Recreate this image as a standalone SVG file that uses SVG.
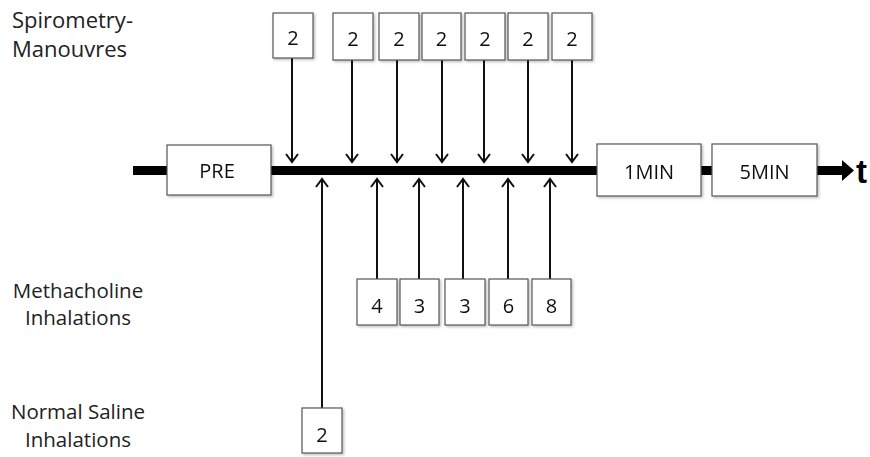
<svg xmlns="http://www.w3.org/2000/svg" width="870" height="457" viewBox="0 0 870 457">
<style>
.box{fill:#fff;stroke:#555;stroke-width:1.2}
.lbl{font-family:"Open Sans","Liberation Sans",sans-serif;font-size:20px;fill:#111;text-anchor:middle}
.side{font-family:"Open Sans","Liberation Sans",sans-serif;font-size:20.5px;fill:#222}
.big{font-size:22px}
.arr{stroke:#111;stroke-width:2;fill:none;marker-end:url(#ah)}
</style>
<defs>
<marker id="ah" markerWidth="14" markerHeight="14" refX="11" refY="7" orient="auto" markerUnits="userSpaceOnUse">
<path d="M3,1 L11,7 L3,13" fill="none" stroke="#111" stroke-width="2"/>
</marker>
<filter id="sh" x="-10%" y="-10%" width="130%" height="130%">
<feDropShadow dx="1.5" dy="1.5" stdDeviation="1" flood-color="#000" flood-opacity="0.25"/>
</filter>
</defs>

<g id="labels">
<text class="side big" x="12" y="28">Spirometry-</text>
<text class="side big" x="12" y="57">Manouvres</text>
<text class="side" x="78" y="298" text-anchor="middle">Methacholine</text>
<text class="side" x="78" y="325" text-anchor="middle">Inhalations</text>
<text class="side" x="78" y="419" text-anchor="middle">Normal Saline</text>
<text class="side" x="78" y="447" text-anchor="middle">Inhalations</text>
</g>

<g id="timeline">
<line x1="133" y1="170.5" x2="845" y2="170.5" stroke="#000" stroke-width="9"/>
<polygon points="842,160 854,170.5 842,181" fill="#000"/>
<text x="856" y="183" font-family="'Liberation Sans',Arial,sans-serif" font-weight="bold" font-size="33" fill="#000">t</text>
</g>

<g id="connectors">
<line class="arr" x1="292" y1="58" x2="292" y2="162"/>
<line class="arr" x1="352" y1="60" x2="352" y2="162"/>
<line class="arr" x1="397" y1="60" x2="397" y2="162"/>
<line class="arr" x1="442" y1="60" x2="442" y2="162"/>
<line class="arr" x1="484" y1="60" x2="484" y2="162"/>
<line class="arr" x1="528" y1="60" x2="528" y2="162"/>
<line class="arr" x1="572" y1="60" x2="572" y2="162"/>
<line class="arr" x1="377" y1="279" x2="377" y2="179"/>
<line class="arr" x1="419" y1="279" x2="419" y2="179"/>
<line class="arr" x1="463" y1="279" x2="463" y2="179"/>
<line class="arr" x1="508" y1="279" x2="508" y2="179"/>
<line class="arr" x1="550" y1="279" x2="550" y2="179"/>
<line class="arr" x1="322" y1="408" x2="322" y2="179"/>
</g>

<g id="pre" filter="url(#sh)"><rect class="box" x="167" y="145" width="104" height="50"/><text class="lbl" x="217" y="178" font-size="21">PRE</text></g>
<g id="min1" filter="url(#sh)"><rect class="box" x="597" y="144" width="104" height="52"/><text class="lbl" x="649" y="179">1MIN</text></g>
<g id="min5" filter="url(#sh)"><rect class="box" x="712" y="144" width="105" height="52"/><text class="lbl" x="764.5" y="179">5MIN</text></g>

<g id="s1" filter="url(#sh)"><rect class="box" x="273" y="13" width="40" height="45"/><text class="lbl" x="293" y="45">2</text></g>
<g id="s2" filter="url(#sh)"><rect class="box" x="333" y="13" width="40" height="47"/><text class="lbl" x="353" y="46">2</text></g>
<g id="s3" filter="url(#sh)"><rect class="box" x="379" y="13" width="40" height="47"/><text class="lbl" x="399" y="46">2</text></g>
<g id="s4" filter="url(#sh)"><rect class="box" x="422" y="13" width="39" height="47"/><text class="lbl" x="441.5" y="46">2</text></g>
<g id="s5" filter="url(#sh)"><rect class="box" x="465" y="13" width="40" height="47"/><text class="lbl" x="485" y="46">2</text></g>
<g id="s6" filter="url(#sh)"><rect class="box" x="508" y="13" width="40" height="47"/><text class="lbl" x="528" y="46">2</text></g>
<g id="s7" filter="url(#sh)"><rect class="box" x="552" y="13" width="40" height="47"/><text class="lbl" x="572" y="46">2</text></g>

<g id="m1" filter="url(#sh)"><rect class="box" x="357" y="279" width="40" height="46"/><text class="lbl" x="377" y="313">4</text></g>
<g id="m2" filter="url(#sh)"><rect class="box" x="400" y="279" width="39" height="46"/><text class="lbl" x="419.5" y="313">3</text></g>
<g id="m3" filter="url(#sh)"><rect class="box" x="445" y="279" width="40" height="46"/><text class="lbl" x="465" y="313">3</text></g>
<g id="m4" filter="url(#sh)"><rect class="box" x="489" y="279" width="39" height="46"/><text class="lbl" x="508.5" y="313">6</text></g>
<g id="m5" filter="url(#sh)"><rect class="box" x="532" y="279" width="39" height="46"/><text class="lbl" x="551.5" y="313">8</text></g>

<g id="ns1" filter="url(#sh)"><rect class="box" x="302" y="408" width="40" height="45"/><text class="lbl" x="322" y="442">2</text></g>
</svg>
